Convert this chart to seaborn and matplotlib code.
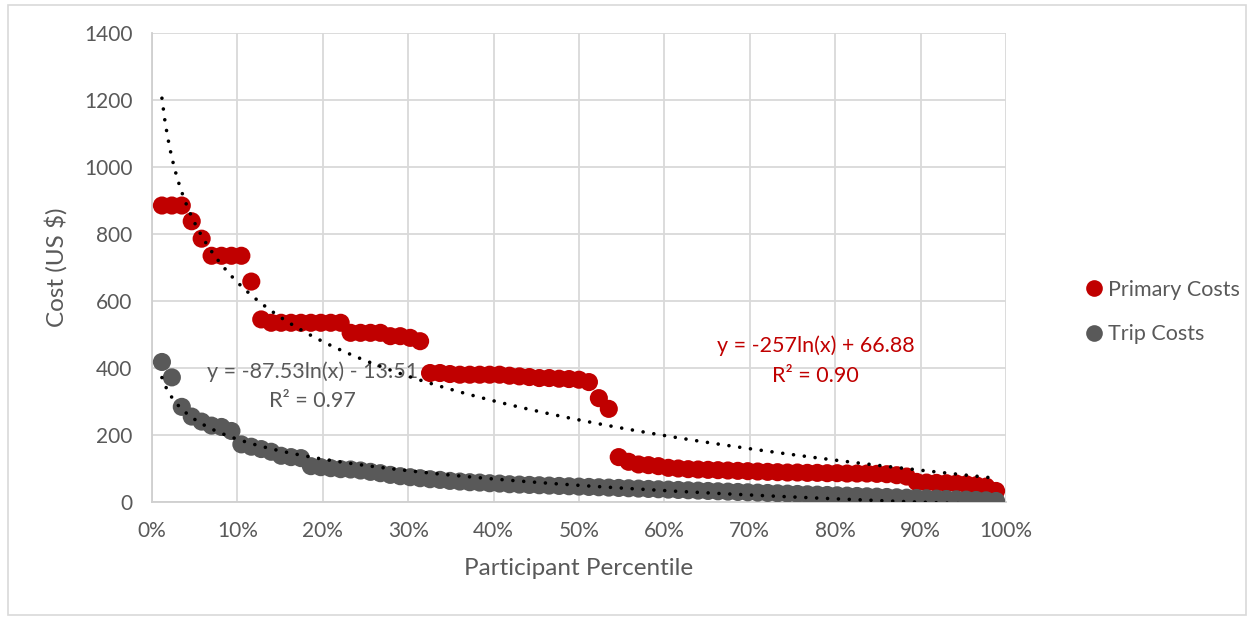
import matplotlib
matplotlib.use("Agg")
import matplotlib.pyplot as plt
from matplotlib.lines import Line2D
from matplotlib.patches import Rectangle
from matplotlib.ticker import FuncFormatter, MultipleLocator
import numpy as np
import pandas as pd
import seaborn as sns

# participant rank (1..85) out of 86 -> percentile
N_PARTICIPANTS = 85
RANK = list(range(1, N_PARTICIPANTS + 1))

PRIMARY_COSTS = [
    885, 885, 885, 838, 786, 735, 735, 735, 735, 658,
    545, 535, 535, 535, 535, 535, 535, 535, 535, 505,
    505, 505, 505, 495, 495, 490, 480, 385, 385, 382,
    380, 380, 380, 380, 380, 377, 375, 373, 370, 370,
    368, 367, 365, 358, 310, 278, 134, 120, 112, 110,
    107, 102, 100, 98, 97, 96, 95, 94, 93, 92,
    91, 90, 89, 88, 88, 87, 87, 86, 86, 85,
    85, 85, 84, 83, 80, 76, 60, 58, 57, 56,
    55, 53, 50, 46, 33,
]
TRIP_COSTS = [
    418, 372, 284, 255, 240, 228, 224, 212, 172, 165,
    158, 150, 138, 134, 131, 107, 104, 101, 98, 97,
    94, 90, 86, 81, 77, 74, 71, 68, 66, 63,
    61, 59, 58, 56, 55, 53, 52, 51, 50, 49,
    48, 47, 46, 45, 44, 43, 42, 41, 40, 39,
    38, 37, 36, 35, 34, 33, 32, 31, 30, 29,
    28, 27, 26, 25, 24, 23, 22, 21, 20, 19,
    18, 17, 16, 15, 14, 13, 12, 11, 10, 9,
    8, 7, 6, 5, 3,
]
SERIES = ["Primary Costs", "Trip Costs"]
COLORS = {"Primary Costs": "#C00000", "Trip Costs": "#595959"}
TREND_TEXT = {
    "Primary Costs": "y = -257ln(x) + 66.88\nR² = 0.90",
    "Trip Costs": "y = -87.53ln(x) - 13.51\nR² = 0.97",
}

TEXT_COLOR = "#595959"
GRID_COLOR = "#d9d9d9"


def build_frame() -> pd.DataFrame:
    pct = np.array(RANK) / (N_PARTICIPANTS + 1)
    frames = []
    for name, values in zip(SERIES, [PRIMARY_COSTS, TRIP_COSTS]):
        frames.append(pd.DataFrame({"percentile": pct, "cost": values, "series": name}))
    return pd.concat(frames, ignore_index=True)


def log_trend(sub: pd.DataFrame) -> tuple[np.ndarray, np.ndarray]:
    slope, intercept = np.polyfit(np.log(sub["percentile"]), sub["cost"], 1)
    xs = np.linspace(sub["percentile"].min(), sub["percentile"].max(), 300)
    return xs, slope * np.log(xs) + intercept


def main() -> None:
    sns.set_theme(style="white")
    plt.rcParams["font.family"] = ["Lato", "DejaVu Sans"]

    df = build_frame()

    fig = plt.figure(figsize=(12.5, 6.18), dpi=100)
    fig.patches.append(
        Rectangle((0.006, 0.005), 0.991, 0.987, transform=fig.transFigure,
                  fill=False, edgecolor=GRID_COLOR, linewidth=1.2)
    )
    ax = fig.add_axes([0.1216, 0.1877, 0.6832, 0.7589])

    sns.scatterplot(
        data=df, x="percentile", y="cost", hue="series", hue_order=SERIES,
        palette=COLORS, s=170, linewidth=0, edgecolor="none", ax=ax,
        legend=False, zorder=3,
    )

    for name in SERIES:
        xs, ys = log_trend(df[df["series"] == name])
        ax.plot(xs, ys, color="black", linewidth=2.6,
                linestyle=(0, (0.01, 3.0)), dash_capstyle="round", zorder=4)

    ax.text(0.777, 422, TREND_TEXT["Primary Costs"], color="#C00000", fontsize=15.5,
            ha="center", va="center", linespacing=1.6, zorder=5)
    ax.text(0.188, 346, TREND_TEXT["Trip Costs"], color=TEXT_COLOR, fontsize=15.5,
            ha="center", va="center", linespacing=1.6, zorder=2)

    ax.set_xlim(0, 1)
    ax.set_ylim(0, 1400)
    ax.xaxis.set_major_locator(MultipleLocator(0.1))
    ax.yaxis.set_major_locator(MultipleLocator(200))
    ax.xaxis.set_major_formatter(FuncFormatter(lambda v, _: f"{v * 100:.0f}%"))
    ax.grid(True, color=GRID_COLOR, linewidth=1.3)
    ax.set_axisbelow(True)
    for side in ["top", "right"]:
        ax.spines[side].set_visible(False)
    for side in ["left", "bottom"]:
        ax.spines[side].set_color("#cfcfcf")
        ax.spines[side].set_linewidth(1.3)
    ax.tick_params(axis="both", length=0, labelsize=15, labelcolor=TEXT_COLOR)
    ax.tick_params(axis="x", pad=14)
    ax.tick_params(axis="y", pad=14)

    ax.set_xlabel("Participant Percentile", fontsize=17.5, color=TEXT_COLOR, labelpad=12)
    ax.set_ylabel("Cost (US $)", fontsize=17.5, color=TEXT_COLOR, labelpad=12)

    handles = [
        Line2D([], [], marker="o", linestyle="none", markersize=12,
               markerfacecolor=COLORS[name], markeredgecolor="none", label=name)
        for name in SERIES
    ]
    leg = fig.legend(handles=handles, loc="center left", bbox_to_anchor=(0.851, 0.495),
                     frameon=False, fontsize=15.5, handletextpad=0.15, labelspacing=1.15,
                     handlelength=1.0)
    for text in leg.get_texts():
        text.set_color(TEXT_COLOR)

    fig.savefig("out.png", dpi=100)


if __name__ == "__main__":
    main()
